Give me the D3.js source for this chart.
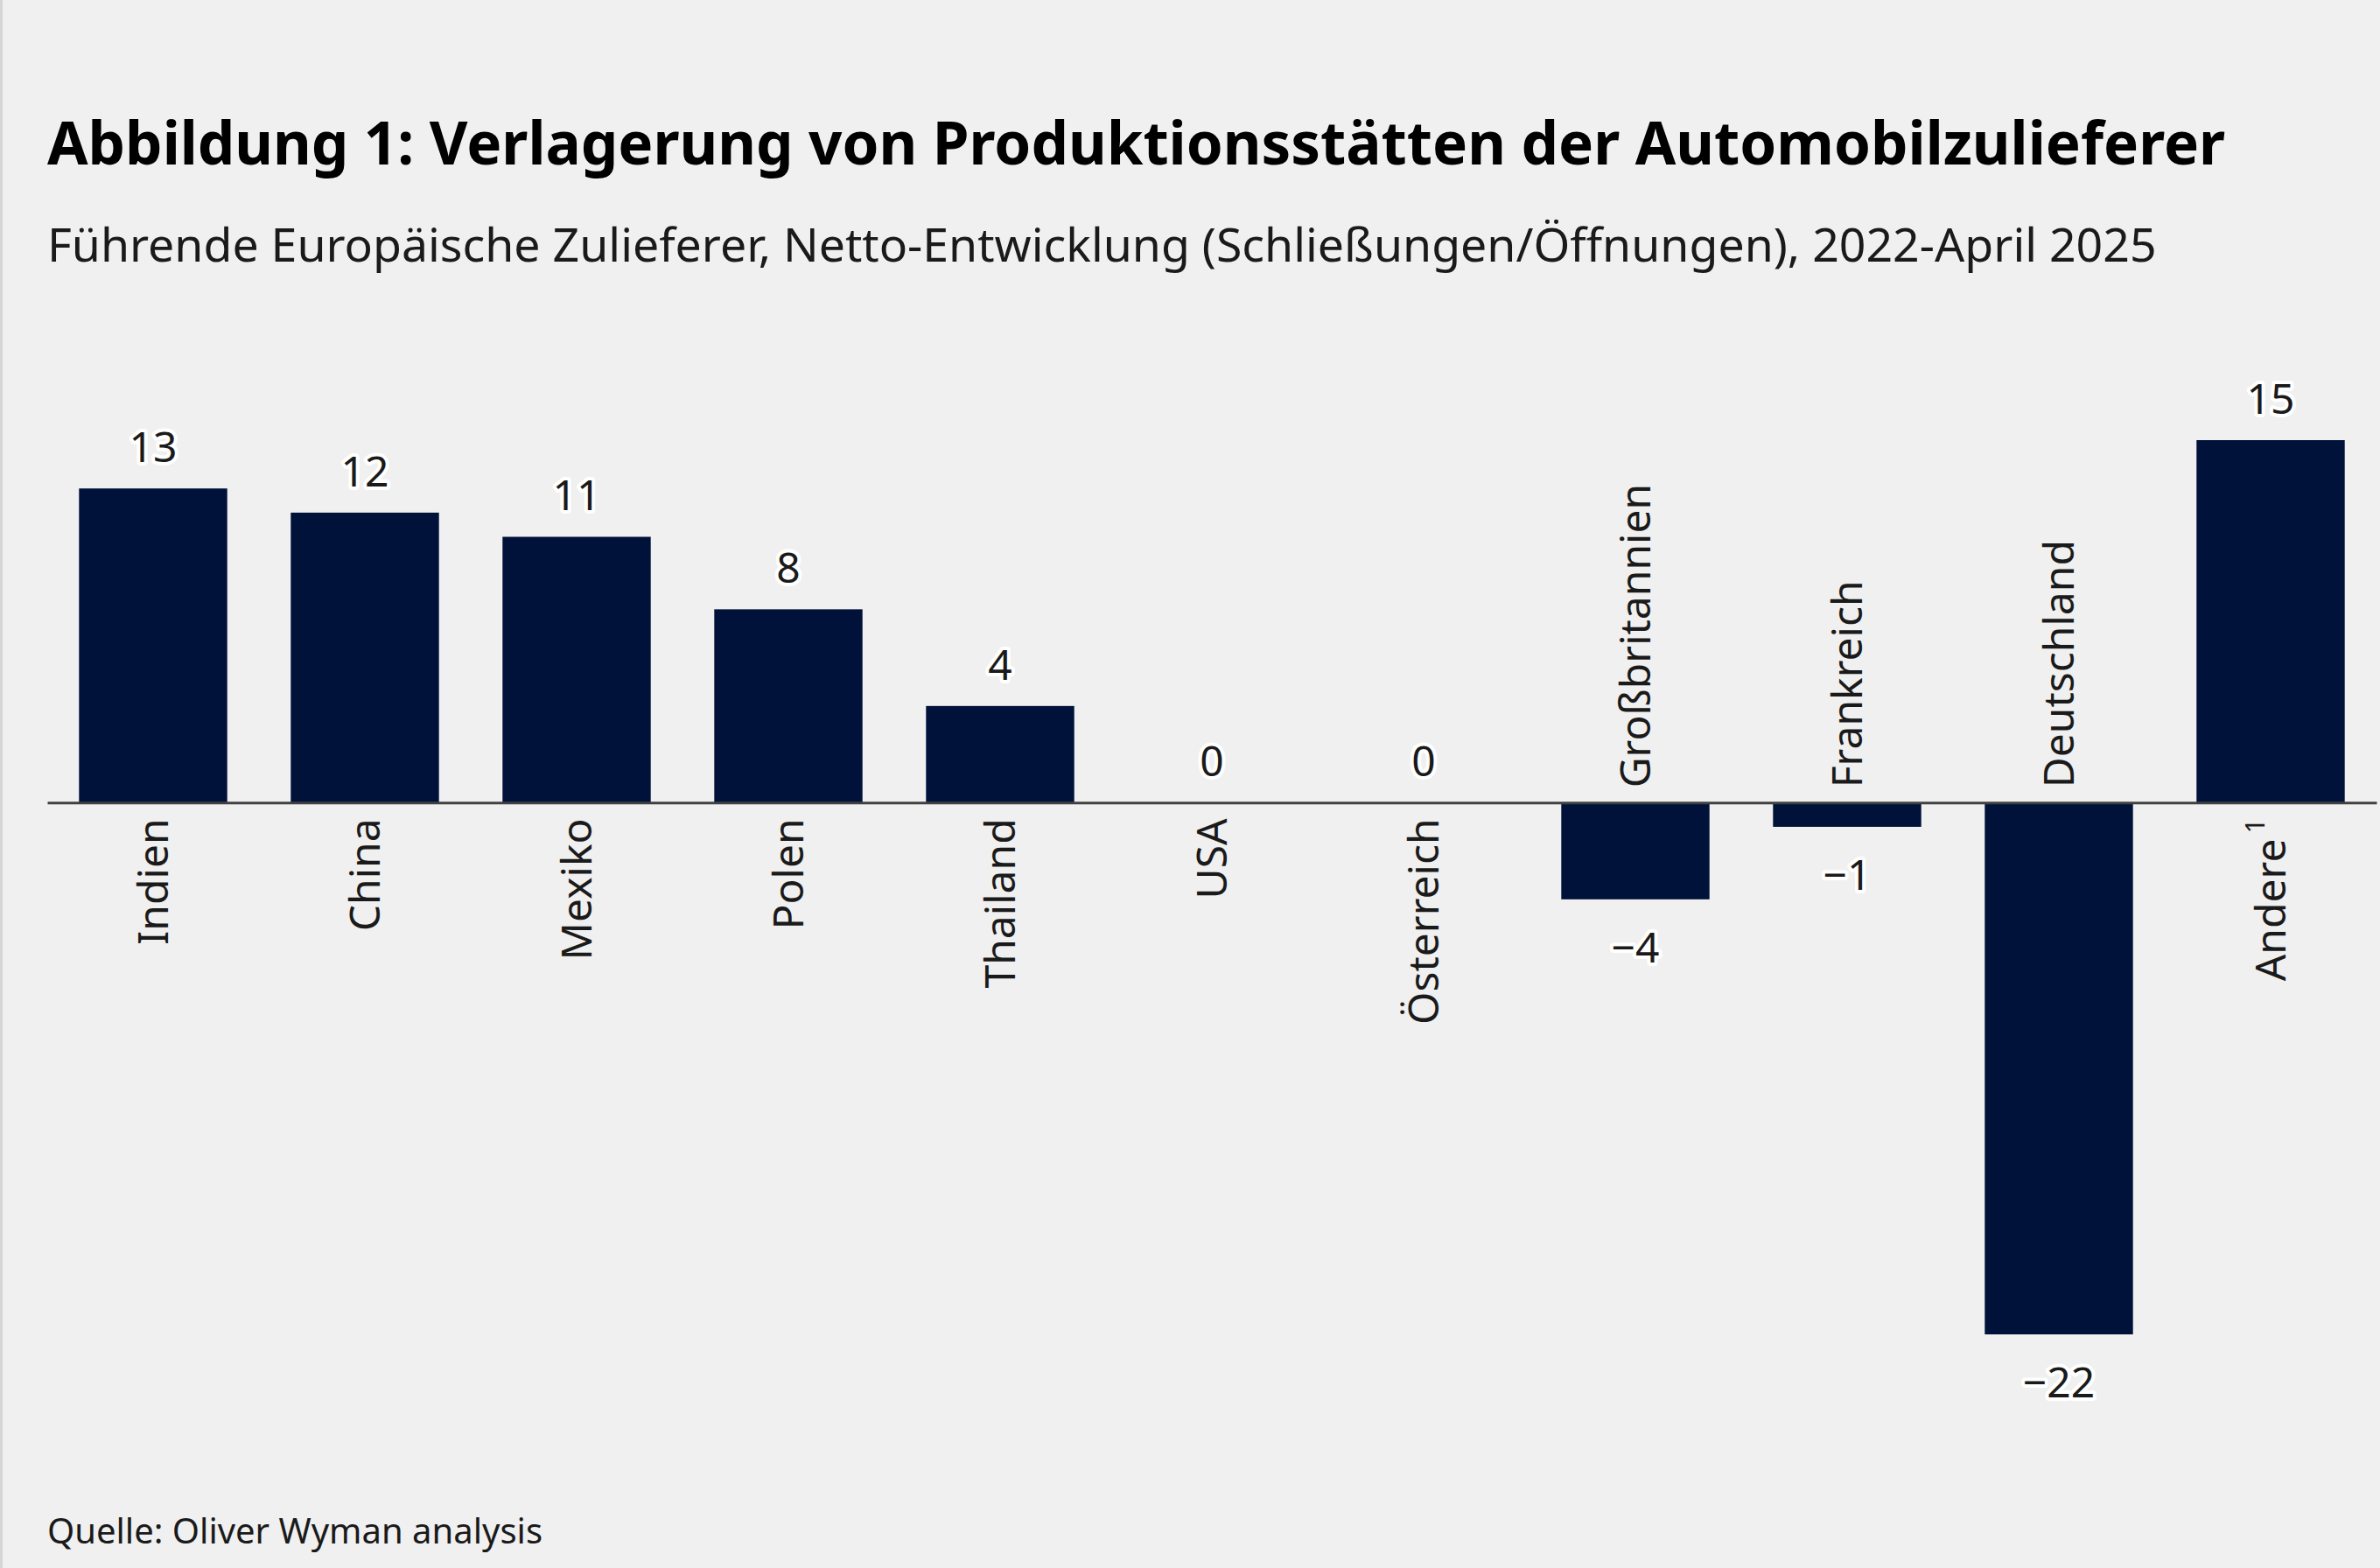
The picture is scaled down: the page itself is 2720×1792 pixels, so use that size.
<!DOCTYPE html>
<html>
<head>
<meta charset="utf-8">
<script src="https://cdn.jsdelivr.net/npm/d3@7"></script>
<style>
  html, body { margin: 0; padding: 0; background: #f0f0f0; }
  svg { display: block; font-family: "Noto Sans", "Open Sans", sans-serif; }
</style>
</head>
<body>
<script>
// chart data
const countries = ["Indien", "China", "Mexiko", "Polen", "Thailand", "USA", "Österreich",
                   "Großbritannien", "Frankreich", "Deutschland", "Andere"];
const values = [13, 12, 11, 8, 4, 0, 0, -4, -1, -22, 15];
const footnoteMark = { "Andere": "1" };

const w = 2720;
const h = 1792;

const svg = d3.select("body")
    .append("svg")
    .attr("width", w)
    .attr("height", h);

svg.append("rect")
    .attr("width", w).attr("height", h)
    .attr("fill", "#f0f0f0");

// thin left border like in the original
svg.append("rect")
    .attr("x", 0).attr("y", 0)
    .attr("width", 3).attr("height", h)
    .attr("fill", "#d6d6d6");

svg.append("text")
    .attr("x", 54).attr("y", 188)
    .attr("font-size", 67.3)
    .attr("font-weight", 700)
    .attr("fill", "#000")
    .text("Abbildung 1: Verlagerung von Produktionsstätten der Automobilzulieferer");

svg.append("text")
    .attr("x", 54).attr("y", 299)
    .attr("font-size", 53.6)
    .attr("fill", "#1a1a1a")
    .text("Führende Europäische Zulieferer, Netto-Entwicklung (Schließungen/Öffnungen), 2022-April 2025");

svg.append("text")
    .attr("x", 54).attr("y", 1764)
    .attr("font-size", 40)
    .attr("fill", "#1a1a1a")
    .text("Quelle: Oliver Wyman analysis");

const data = countries.map((c, i) => ({ name: c, value: values[i] }));

const x = d3.scaleBand()
    .domain(countries)
    .range([54, 2716])
    .paddingInner(0.3)
    .paddingOuter(0.15);

const y = d3.scaleLinear()
    .domain([-22, 15])
    .range([1525, 503]);

const barColor = "#01123a";

svg.selectAll("rect.bar")
    .data(data)
    .enter()
    .append("rect")
    .attr("class", "bar")
    .attr("x", d => x(d.name))
    .attr("width", x.bandwidth())
    .attr("y", d => Math.min(y(d.value), y(0)))
    .attr("height", d => Math.abs(y(d.value) - y(0)))
    .attr("fill", barColor);

// axis along zero line
const axis = svg.append("g")
    .attr("transform", `translate(0,${y(0)})`)
    .call(d3.axisBottom(x).tickSize(0).tickSizeOuter(0));

axis.select(".domain")
    .attr("stroke", "#404040")
    .attr("stroke-width", 3);

const byName = new Map(data.map(d => [d.name, d.value]));

axis.selectAll(".tick text")
    .attr("font-family", "Noto Sans, Open Sans, sans-serif")
    .attr("font-size", 48)
    .attr("fill", "#1a1a1a")
    .attr("y", null)
    .attr("dy", "0.36em")
    .attr("text-anchor", d => byName.get(d) < 0 ? "start" : "end")
    .attr("transform", d => byName.get(d) < 0
        ? "translate(0,-17) rotate(-90)"
        : "translate(0,18) rotate(-90)")
    .each(function(d) {
        if (footnoteMark[d]) {
            d3.select(this).append("tspan")
                .attr("font-size", 30)
                .attr("dx", 6)
                .attr("dy", "-0.8em")
                .text(footnoteMark[d]);
        }
    });

const fmt = v => v < 0 ? "\u2212" + Math.abs(v) : String(v);

svg.selectAll("text.val")
    .data(data)
    .enter()
    .append("text")
    .attr("class", "val")
    .attr("x", d => x(d.name) + x.bandwidth() / 2)
    .attr("y", d => d.value < 0 ? y(d.value) + 72 : y(d.value) - 30)
    .attr("text-anchor", "middle")
    .attr("font-size", 48)
    .attr("fill", "#1a1a1a")
    .attr("stroke", "#ffffff")
    .attr("stroke-width", 8)
    .attr("stroke-linejoin", "round")
    .attr("paint-order", "stroke")
    .text(d => fmt(d.value));
</script>
</body>
</html>
